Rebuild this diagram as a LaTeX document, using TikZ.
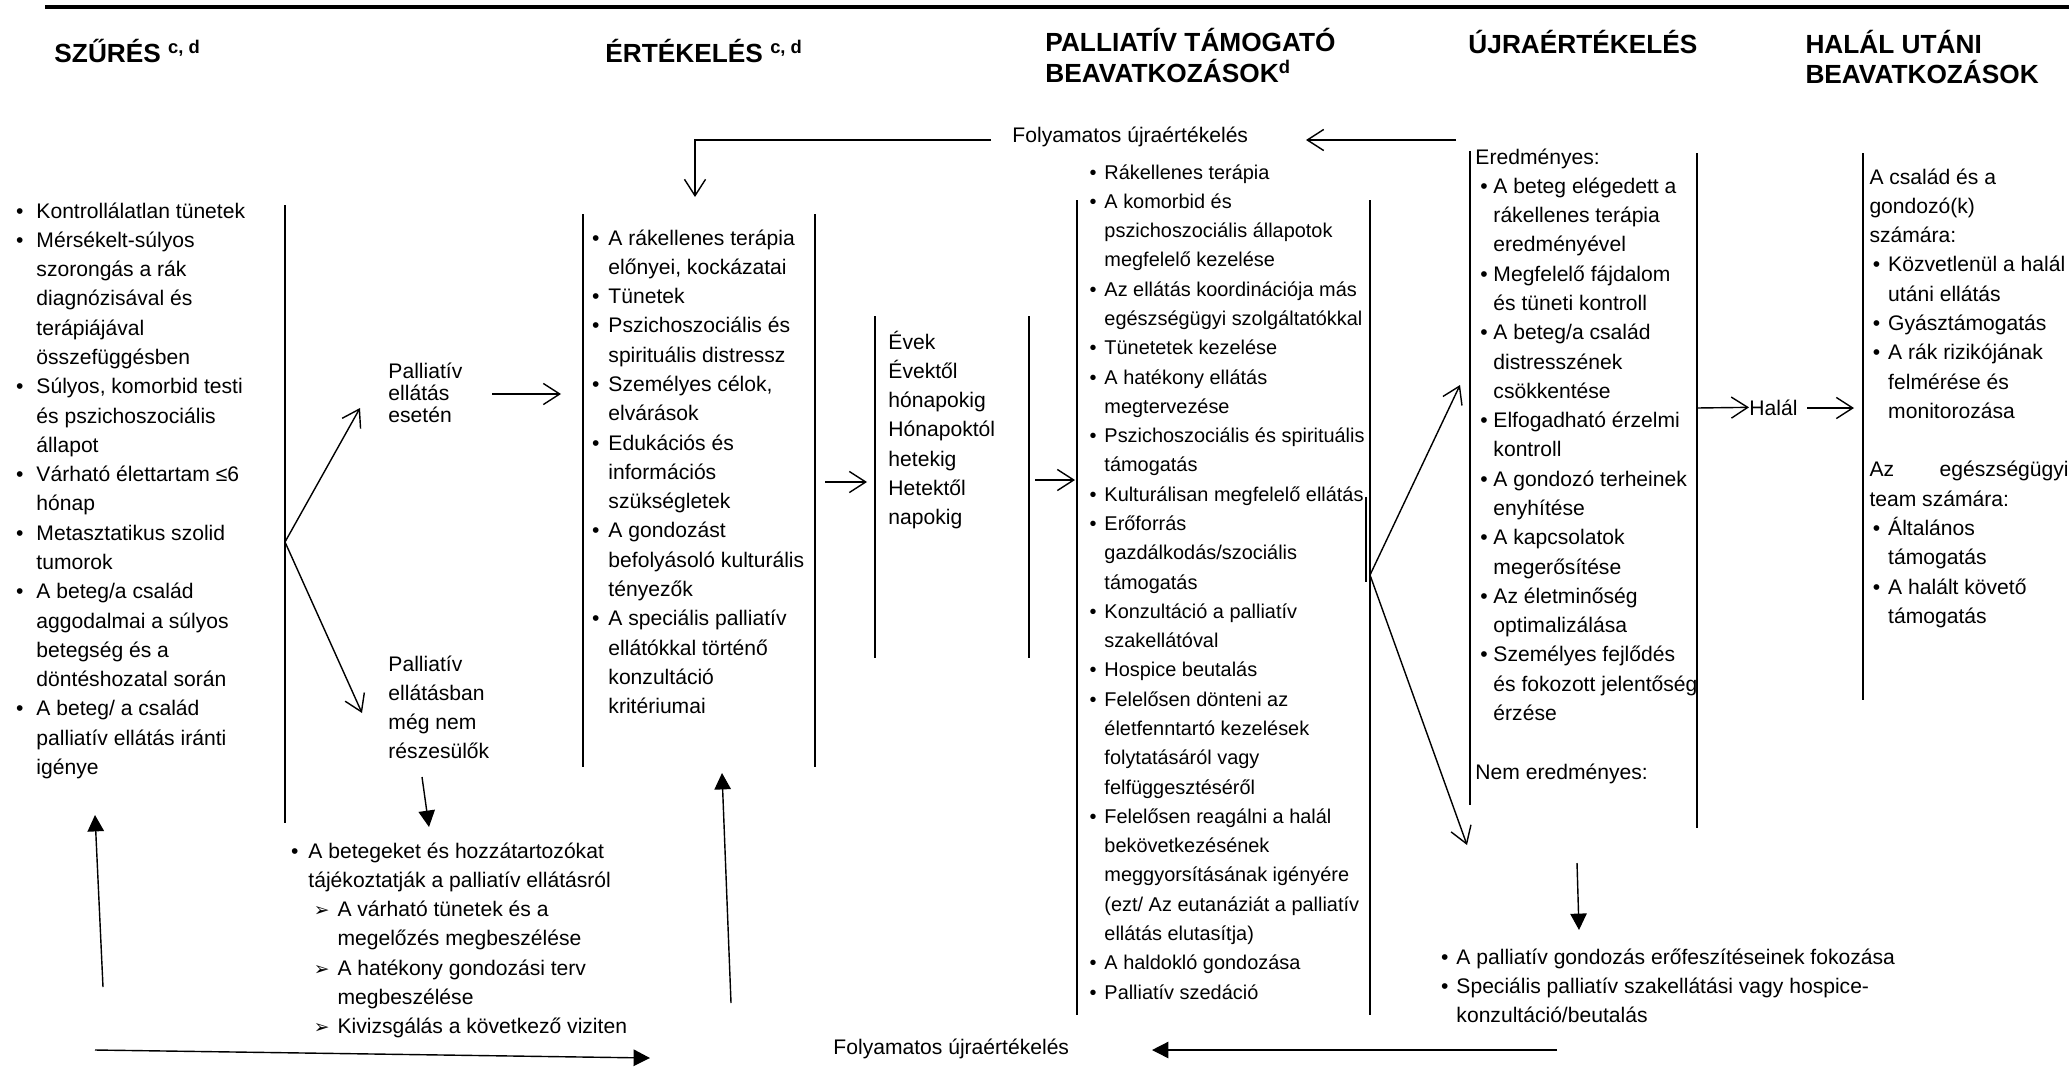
\documentclass[tikz,border=0pt]{standalone}
\usepackage{fontspec}
\setmainfont{Liberation Sans}
\newfontfamily\dingfont{DejaVu Sans}
\usetikzlibrary{arrows.meta}
\newlength\bulgap
\setlength\bulgap{4pt}
\newcommand{\bul}{\llap{\textbullet\hspace{\bulgap}}}
\newcommand{\dingarr}{\llap{{\dingfont\fontsize{8}{8}\selectfont ➢}\hspace{3.4pt}}}
\newcommand{\stk}[2]{\vtop{\baselineskip=#1\lineskiplimit=-100pt\lineskip=0pt\let\\\cr\halign{##\hfil\cr#2\crcr}}}
\tikzset{
  txt/.style={anchor=base west, inner sep=0pt, font=\fontsize{9}{12.5}\selectfont},
  hd/.style={anchor=base west, inner sep=0pt, font=\fontsize{11.2}{12.4}\selectfont\bfseries},
  bar/.style={line width=1pt},
  oarr/.style={line width=0.6pt, -{Straight Barb[length=7pt,width=9pt]}},
  farr/.style={line width=0.6pt, -{Triangle[length=7pt,width=7pt]}}
}
\begin{document}
\begin{tikzpicture}[x=0.015cm, y=-0.015cm]
\fill[white] (0,0) rectangle (2069,1068);
\useasboundingbox (0,0) rectangle (2069,1068);
\draw[line width=1.7pt] (45,7) -- (2069,7);
% headers
\node[hd] (hA) at (54,63) {SZŰRÉS \textsuperscript{c, d}};
\node[hd] (hB) at (605,63) {ÉRTÉKELÉS \textsuperscript{c, d}};
\node[hd] (hC) at (1045,52) {\stk{13pt}{PALLIATÍV TÁMOGATÓ\\BEAVATKOZÁSOK\textsuperscript{d}}};
\node[hd] (hD) at (1468,54) {ÚJRAÉRTÉKELÉS};
\node[hd] (hE) at (1805,54) {\stk{12.6pt}{HALÁL UTÁNI\\BEAVATKOZÁSOK}};
% screening
\node[txt] (scr) at (36,218) {\setlength\bulgap{5.5pt}\stk{12.5pt}{\bul Kontrollálatlan tünetek\\
\bul Mérsékelt-súlyos\\szorongás a rák\\diagnózisával és\\terápiájával\\összefüggésben\\
\bul Súlyos, komorbid testi\\és pszichoszociális\\állapot\\
\bul Várható élettartam ≤6\\hónap\\
\bul Metasztatikus szolid\\tumorok\\
\bul A beteg/a család\\aggodalmai a súlyos\\betegség és a\\döntéshozatal során\\
\bul A beteg/ a család\\palliatív ellátás iránti\\igénye}};
\draw[bar] (285,205) -- (285,823);
\coordinate (fkA) at (285,542);
\coordinate (upA) at (360,408);
\coordinate (dnA) at (362,713);
\draw[oarr] (fkA) -- (upA);
\draw[oarr] (fkA) -- (dnA);
\node[txt] (palA) at (388,378) {\stk{9.4pt}{Palliatív\\ellátás\\esetén}};
\node[txt] (palB) at (388,671) {\stk{12.5pt}{Palliatív\\ellátásban\\még nem\\részesülők}};
\coordinate (a1) at (492,394);
\coordinate (a2) at (561,394);
\draw[oarr] (a1) -- (a2);
\coordinate (b1) at (422,777);
\coordinate (b2) at (429,827);
\draw[farr] (b1) -- (b2);
\node[txt] (inf) at (308,858) {\setlength\bulgap{4.3pt}\stk{12.5pt}{\bul A betegeket és hozzátartozókat\\
tájékoztatják a palliatív ellátásról\\
\hspace*{12.4pt}\dingarr A várható tünetek és a\\\hspace*{12.4pt}megelőzés megbeszélése\\
\hspace*{12.4pt}\dingarr A hatékony gondozási terv\\\hspace*{12.4pt}megbeszélése\\
\hspace*{12.4pt}\dingarr Kivizsgálás a következő viziten}};
% evaluation
\draw[bar] (583,214) -- (583,767);
\draw[bar] (815,214) -- (815,767);
\node[txt] (evl) at (608,245) {\setlength\bulgap{3.8pt}\stk{12.5pt}{\bul A rákellenes terápia\\előnyei, kockázatai\\
\bul Tünetek\\
\bul Pszichoszociális és\\spirituális distressz\\
\bul Személyes célok,\\elvárások\\
\bul Edukációs és\\információs\\szükségletek\\
\bul A gondozást\\befolyásoló kulturális\\tényezők\\
\bul A speciális palliatív\\ellátókkal történő\\konzultáció\\kritériumai}};
\coordinate (c1) at (825,482);
\coordinate (c2) at (867,482);
\draw[oarr] (c1) -- (c2);
\draw[bar] (875,316) -- (875,658);
\draw[bar] (1029,316) -- (1029,658);
\node[txt] (tim) at (888,349) {\stk{12.5pt}{Évek\\Évektől\\hónapokig\\Hónapoktól\\hetekig\\Hetektől\\napokig}};
\coordinate (d1) at (1035,480);
\coordinate (d2) at (1075,480);
\draw[oarr] (d1) -- (d2);
% palliative interventions
\draw[bar] (1077,200) -- (1077,1015);
\draw[bar] (1370,200) -- (1370,1015);
\draw[bar] (1366,497) -- (1366,582);
\node[txt, font=\fontsize{8.5}{12.5}\selectfont] (ivn) at (1104,179) {\setlength\bulgap{3.4pt}\stk{12.5pt}{\bul Rákellenes terápia\\
\bul A komorbid és\\pszichoszociális állapotok\\megfelelő kezelése\\
\bul Az ellátás koordinációja más\\egészségügyi szolgáltatókkal\\
\bul Tünetetek kezelése\\
\bul A hatékony ellátás\\megtervezése\\
\bul Pszichoszociális és spirituális\\támogatás\\
\bul Kulturálisan megfelelő ellátás\\
\bul Erőforrás\\gazdálkodás/szociális\\támogatás\\
\bul Konzultáció a palliatív\\szakellátóval\\
\bul Hospice beutalás\\
\bul Felelősen dönteni az\\életfenntartó kezelések\\folytatásáról vagy\\felfüggesztéséről\\
\bul Felelősen reagálni a halál\\bekövetkezésének\\meggyorsításának igényére\\(ezt/ Az eutanáziát a palliatív\\ellátás elutasítja)\\
\bul A haldokló gondozása\\
\bul Palliatív szedáció}};
\coordinate (fkB) at (1370,575);
\coordinate (upB) at (1460,385);
\coordinate (dnB) at (1467,845);
\draw[oarr] (fkB) -- (upB);
\draw[oarr] (fkB) -- (dnB);
% top loop
\node[txt] (loopA) at (1012,143) {Folyamatos újraértékelés};
\coordinate (e1) at (1456,140);
\coordinate (e2) at (1306,140);
\draw[oarr] (e1) -- (e2);
\coordinate (g1) at (991,140);
\coordinate (g2) at (695,197);
\draw[oarr] (g1) -| (g2);
% reassessment
\draw[bar] (1470,151) -- (1470,805);
\draw[bar] (1697,153) -- (1697,828);
\node[txt] (resA) at (1475,164) {Eredményes:};
\node[txt] (res) at (1493,193.3) {\setlength\bulgap{2.5pt}\stk{12.5pt}{\bul A beteg elégedett a\\rákellenes terápia\\eredményével\\
\bul Megfelelő fájdalom\\és tüneti kontroll\\
\bul A beteg/a család\\distresszének\\csökkentése\\
\bul Elfogadható érzelmi\\kontroll\\
\bul A gondozó terheinek\\enyhítése\\
\bul A kapcsolatok\\megerősítése\\
\bul Az életminőség\\optimalizálása\\
\bul Személyes fejlődés\\és fokozott jelentőség\\érzése}};
\node[txt] (resB) at (1475,779) {Nem eredményes:};
\node[txt] (hal) at (1749,415) {Halál};
\coordinate (h1) at (1697,408);
\coordinate (h2) at (1807,408);
\coordinate (h3) at (1854,408);
\draw[oarr] (h1) -- (hal.west);
\draw[oarr] (h2) -- (h3);
% after death
\draw[bar] (1863,153) -- (1863,700);
\node[txt] (aft) at (1869,184) {\setlength\bulgap{3.4pt}\stk{12.5pt}{A család és a\\gondozó(k)\\számára:\\
\hspace*{8pt}\bul Közvetlenül a halál\\\hspace*{8pt}utáni ellátás\\
\hspace*{8pt}\bul Gyásztámogatás\\
\hspace*{8pt}\bul A rák rizikójának\\\hspace*{8pt}felmérése és\\\hspace*{8pt}monitorozása\\ \\
\hbox to 85pt{Az\hfil egészségügyi}\\team számára:\\
\hspace*{8pt}\bul Általános\\\hspace*{8pt}támogatás\\
\hspace*{8pt}\bul A halált követő\\\hspace*{8pt}támogatás}};
% not effective
\coordinate (k1) at (1577,863);
\coordinate (k2) at (1579,930);
\draw[farr] (k1) -- (k2);
\node[txt] (esc) at (1456,964) {\setlength\bulgap{3.4pt}\stk{12.5pt}{\bul A palliatív gondozás erőfeszítéseinek fokozása\\
\bul Speciális palliatív szakellátási vagy hospice-\\konzultáció/beutalás}};
% bottom loop
\node[txt] (loopB) at (833,1054) {Folyamatos újraértékelés};
\coordinate (m1) at (1557,1050);
\coordinate (m2) at (1152,1050);
\draw[farr] (m1) -- (m2);
\coordinate (n1) at (731,1003);
\coordinate (n2) at (722,773);
\draw[farr] (n1) -- (n2);
\coordinate (p1) at (95,1050);
\coordinate (p2) at (650,1058);
\draw[farr] (p1) -- (p2);
\coordinate (q1) at (103,987);
\coordinate (q2) at (95,815);
\draw[farr] (q1) -- (q2);
\end{tikzpicture}
\end{document}
